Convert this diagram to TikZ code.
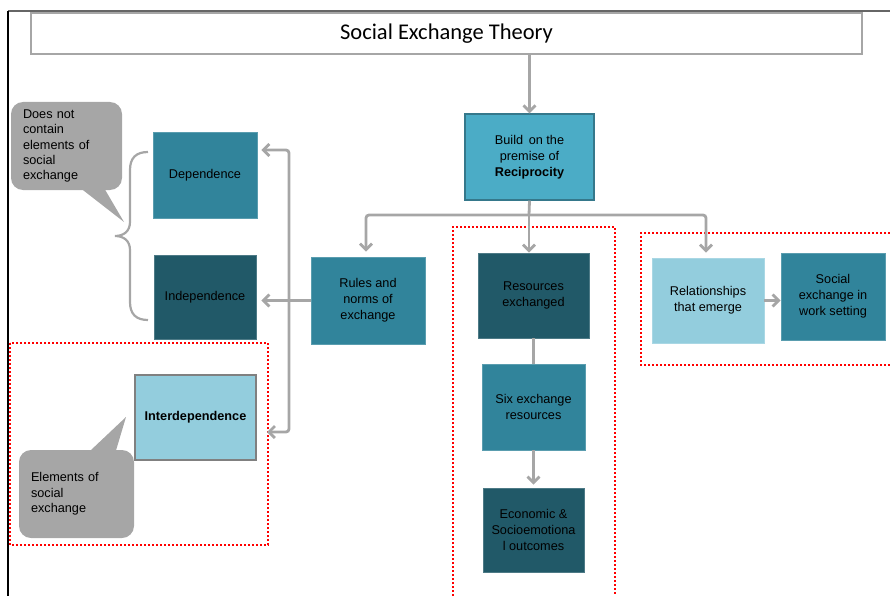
\documentclass[tikz,border=0pt]{standalone}
\usepackage{fontspec}
\setmainfont{Liberation Sans}
\newfontfamily\titlefont{Carlito}
\usetikzlibrary{arrows.meta}
\definecolor{midteal}{HTML}{31849B}
\definecolor{darkteal}{HTML}{215968}
\definecolor{lightteal}{HTML}{93CDDD}
\definecolor{recteal}{HTML}{4BACC6}
\definecolor{linegray}{HTML}{A6A6A6}
\definecolor{calloutgray}{HTML}{A6A6A6}
\begin{document}
\begin{tikzpicture}[x=1pt, y=-1pt,
  every node/.style={font=\fontsize{12.7}{16}\selectfont, align=center, inner sep=2pt},
  box/.style={rectangle, draw=#1!80!white, fill=#1, line width=0.8pt},
  midbox/.style={box=midteal},
  darkbox/.style={box=darkteal},
  lightbox/.style={box=lightteal},
  conn/.style={draw=linegray, line width=2.8pt, rounded corners=3pt},
  arr/.style={conn, -{Straight Barb[length=6pt, width=12pt]}},
  callout/.style={fill=calloutgray, rounded corners=12pt, align=left, inner xsep=12pt,
    font=\fontsize{12.7}{15.3}\selectfont},
  region/.style={draw=red, line width=2.5pt, dash pattern=on 2pt off 2pt}]
  \useasboundingbox (0,0) rectangle (890,596);
  \draw[line width=1.5pt, black!60] (8,11) -- (890,11);
  \draw[line width=1.2pt, black] (8,11) -- (8,596);

  \draw[region] (10,343) rectangle (268,545);
  \draw[region] (453,596) -- (453,227) -- (615,227) -- (615,596);
  \draw[region] (890,233) -- (641,233) -- (641,365) -- (890,365);

  \node[draw=linegray, line width=2pt, fill=white, minimum width=831pt, minimum height=41pt,
    font=\titlefont\fontsize{22.5}{26}\selectfont] (title) at (446.5,33.5) {Social Exchange Theory};
  \node[box=recteal, draw=recteal!70!black, line width=1.3pt, minimum width=129pt, minimum height=86pt]
    (recip) at (529.5,157) {Build\, on the\\premise of\\\textbf{Reciprocity}};
  \node[midbox, minimum width=114pt, minimum height=87pt] (rules) at (368,300.5) {Rules and\\norms of\\exchange};
  \node[darkbox, minimum width=111pt, minimum height=85pt] (res) at (533.5,295.5) {Resources\\exchanged};
  \node[midbox, minimum width=103pt, minimum height=86pt] (six) at (533.5,407) {Six exchange\\resources};
  \node[darkbox, minimum width=101pt, minimum height=84pt] (econ) at (533.5,530) {Economic \&\\Socioemotiona\\l outcomes};
  \node[lightbox, minimum width=112pt, minimum height=85pt] (rel) at (708,300.5) {Relationships\\that emerge};
  \node[midbox, minimum width=104pt, minimum height=87pt] (work) at (833,296.5) {Social\\exchange in\\work setting};
  \node[midbox, minimum width=104pt, minimum height=86pt] (dep) at (205,175) {Dependence};
  \node[darkbox, minimum width=102pt, minimum height=84pt] (indep) at (205,297) {Independence};
  \node[lightbox, draw=black!50, line width=2pt, minimum width=121pt, minimum height=85pt]
    (inter) at (195.5,417.5) {\textbf{Interdependence}};

  \node[callout, minimum width=111pt, minimum height=88pt, text width=87pt] (nocontain) at (66.5,146)
    {Does not\\contain\\elements of\\social\\exchange};
  \fill[calloutgray] ([xshift=11.5pt, yshift=4pt]nocontain.south) -- (124,222)
    -- ([xshift=36.5pt, yshift=4pt]nocontain.south) -- cycle;
  \node[callout, minimum width=115pt, minimum height=88pt, text width=91pt] (contain) at (76.5,494)
    {Elements of\\social\\exchange};
  \fill[calloutgray] ([xshift=10.5pt, yshift=-4pt]contain.north) -- (126,417)
    -- ([xshift=38.5pt, yshift=-4pt]contain.north) -- cycle;

  \draw[draw=linegray, line width=2.2pt] (148,152) .. controls (136,152) and (130,158) .. (130,170) -- (130,222)
    .. controls (130,231) and (124,236) .. (115,236) .. controls (124,236) and (130,241) .. (130,250)
    -- (130,302) .. controls (130,314) and (136,320) .. (148,320);

  \coordinate (split) at (529,215);
  \coordinate (bartop) at (289,150);
  \coordinate (barbot) at (289,432);
  \draw[arr] (title.south -| recip.north) -- (recip.north);
  \draw[conn] (recip.south) -- (split);
  \draw[arr] (split) -- (split |- res.north);
  \draw[arr] (split) -| ([xshift=-2pt, yshift=5pt]rules.north);
  \draw[arr] (split) -| ([xshift=-2pt, yshift=5pt]rel.north);
  \draw[conn] (res.south) -- (six.north);
  \draw[arr] (six.south) -- ([yshift=3pt]econ.north);
  \draw[arr] (rel.east) -- (rel.east -| work.west);
  \draw[arr] (rules.west) -- ([xshift=5pt]rules.west -| indep.east);
  \draw[conn, {Straight Barb[length=6pt, width=12pt]}-{Straight Barb[length=6pt, width=12pt]}]
    ([xshift=4pt]dep.east |- bartop) -- (bartop) -- (barbot) -- ([xshift=10pt]inter.east |- barbot);
\end{tikzpicture}
\end{document}
